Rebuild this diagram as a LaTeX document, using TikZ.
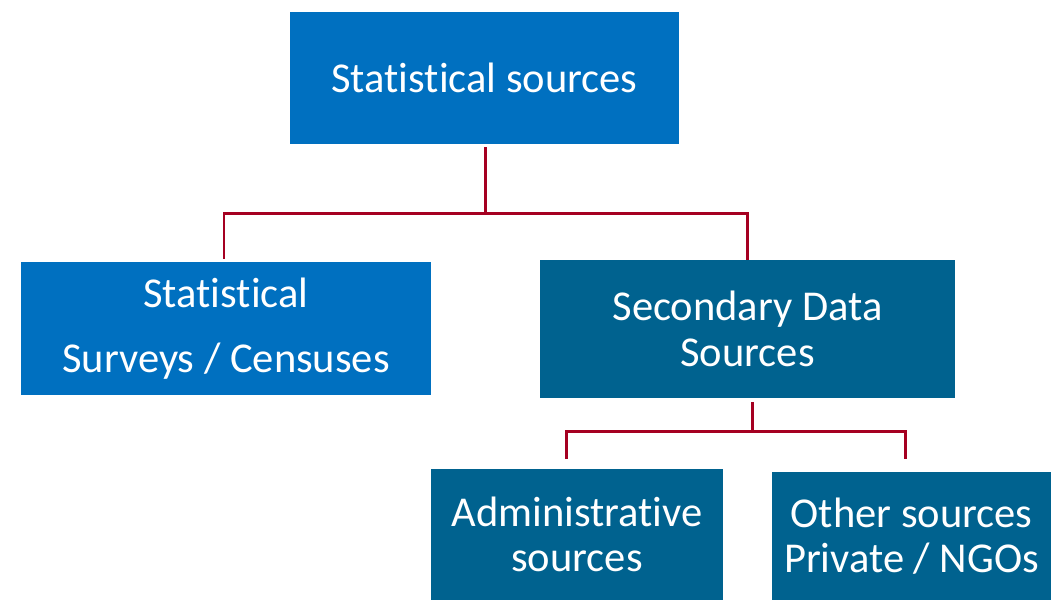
\documentclass[tikz,border=0pt]{standalone}
\usepackage{fontspec}
\setmainfont[RawFeature={-liga;-clig;-calt;-dlig}]{Carlito}
\usetikzlibrary{positioning}

\definecolor{azul}{RGB}{0,112,192}
\definecolor{petroleo}{RGB}{0,98,143}
\definecolor{granate}{RGB}{165,0,33}

\tikzstyle{fuente}= [rectangle,fill=azul,text=white,inner sep=0pt,align=center,font=\fontsize{24.2}{26}\selectfont]
\tikzstyle{secundaria}= [fuente,fill=petroleo]
\tikzstyle{rama}= [granate,line width=1.7pt]

\begin{document}
\begin{tikzpicture}[x=0.02cm,y=-0.02cm]
		\useasboundingbox (0,0) rectangle (1051,600);

		\node (stat) at (484.5,78) [fuente,minimum width=7.78cm,minimum height=2.64cm] {Statistical sources};

		\node (surv) at (226,328.5) [fuente,minimum width=8.2cm,minimum height=2.66cm,font=\fontsize{24.2}{36.9}\selectfont] {Statistical\\Surveys / Censuses};
		\node (sec) at (747.5,329) [secundaria,minimum width=8.3cm,minimum height=2.76cm] {Secondary Data\\Sources};

		\node (adm) at (577,534.5) [secundaria,minimum width=5.84cm,minimum height=2.62cm] {Administrative\\sources};
		\node (oth) at (911.5,536) [secundaria,minimum width=5.58cm,minimum height=2.56cm] {Other sources\\Private / NGOs};

		\coordinate (j1) at (485.5,213);
		\coordinate (j2) at (752,431);

		\draw[rama,shorten <=0.06cm] (stat.south -| j1) -- (j1);
		\draw[rama,shorten >=0.06cm] (j1) -| ([xshift=-0.04cm]surv.north);
		\draw[rama] (j1) -| (sec.north);

		\draw[rama,shorten <=0.08cm] (sec.south -| j2) -- (j2);
		\draw[rama,shorten >=0.2cm] (j2) -| ([xshift=-0.22cm]adm.north);
		\draw[rama,shorten >=0.26cm] (j2) -| ([xshift=-0.13cm]oth.north);
\end{tikzpicture}
\end{document}
